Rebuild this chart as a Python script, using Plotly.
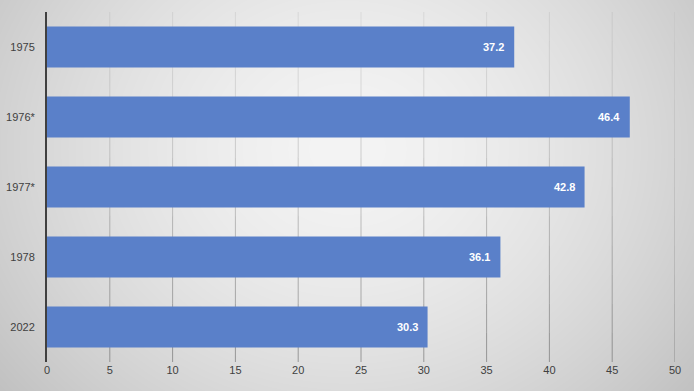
import base64, struct, zlib
import numpy as np
import plotly.graph_objects as go

categories = ["1975", "1976*", "1977*", "1978", "2022"]
values = [37.2, 46.4, 42.8, 36.1, 30.3]
x_ticks = [0, 5, 10, 15, 20, 25, 30, 35, 40, 45, 50]

W, H = 694, 391
ML, MR, MT, MB = 47, 19, 12, 29

# radial gradient background as PNG data URI
def gradient_png(w, h):
    yy, xx = np.mgrid[0:h, 0:w].astype(float)
    cx, cy = w * 0.5, h * 0.38
    r = np.sqrt(((xx - cx) / (w * 0.62)) ** 2 + ((yy - cy) / (h * 0.95)) ** 2)
    c = 244 - 48 * np.clip(r, 0, 1.3) ** 1.6
    c = np.clip(c, 0, 255).astype(np.uint8)
    raw = b"".join(b"\x00" + bytes(np.repeat(row, 3)) for row in c)
    def chunk(t, d):
        return struct.pack(">I", len(d)) + t + d + struct.pack(">I", zlib.crc32(t + d) & 0xffffffff)
    png = b"\x89PNG\r\n\x1a\n" + chunk(b"IHDR", struct.pack(">IIBBBBB", w, h, 8, 2, 0, 0, 0)) \
        + chunk(b"IDAT", zlib.compress(raw, 9)) + chunk(b"IEND", b"")
    return "data:image/png;base64," + base64.b64encode(png).decode()

PW, PH = W - ML - MR, H - MT - MB

fig = go.Figure()
fig.add_trace(go.Bar(
    y=categories, x=values, orientation="h",
    marker=dict(color="#5A80C9", line=dict(width=0)),
    hoverinfo="skip",
))

for i, v in enumerate(values):
    fig.add_annotation(x=v, y=i, text=f"<b>{v}</b>", showarrow=False,
                       xanchor="right", xshift=-8,
                       font=dict(family="Liberation Sans, Arial", size=11, color="white"))

# gridlines that darken towards the bottom, like the reference
shapes = []
NSEG = 12
for t in x_ticks[1:]:
    for k in range(NSEG):
        y0 = 1 - k / NSEG
        y1 = 1 - (k + 1) / NSEG
        op = 0.12 + 0.55 * ((k + 0.5) / NSEG) ** 1.3
        shapes.append(dict(type="line", xref="x", yref="paper", x0=t, x1=t, y0=y0, y1=y1,
                           line=dict(color=f"rgba(110,110,110,{op:.3f})", width=1),
                           layer="below"))

fig.update_layout(
    width=W, height=H,
    margin=dict(l=ML, r=MR, t=MT, b=MB, autoexpand=False),
    paper_bgcolor="rgba(0,0,0,0)",
    plot_bgcolor="rgba(0,0,0,0)",
    bargap=0.414,
    showlegend=False,
    font=dict(family="Liberation Sans, Arial", size=11, color="#404040"),
    shapes=shapes,
    images=[dict(source=gradient_png(W, H), xref="paper", yref="paper",
                 x=-ML / PW, y=1 + MT / PH,
                 sizex=W / PW, sizey=H / PH,
                 xanchor="left", yanchor="top", sizing="stretch", layer="below")],
    xaxis=dict(range=[0, 50], tickvals=x_ticks, showgrid=False,
               zeroline=False, showline=False, ticks="", automargin=False,
               tickfont=dict(size=11, color="#404040"), fixedrange=True),
    yaxis=dict(type="category", categoryorder="array", categoryarray=categories,
               range=[len(categories) - 0.5, -0.5], autorange=False,
               showline=True, linecolor="#404040", linewidth=2,
               ticks="", showgrid=False, ticklabelstandoff=8, automargin=False,
               tickfont=dict(size=11, color="#404040"), fixedrange=True),
)

fig.write_html("out.html", config={"displayModeBar": False, "staticPlot": True},
               post_script="document.body.style.margin='0';document.body.style.overflow='hidden';")
